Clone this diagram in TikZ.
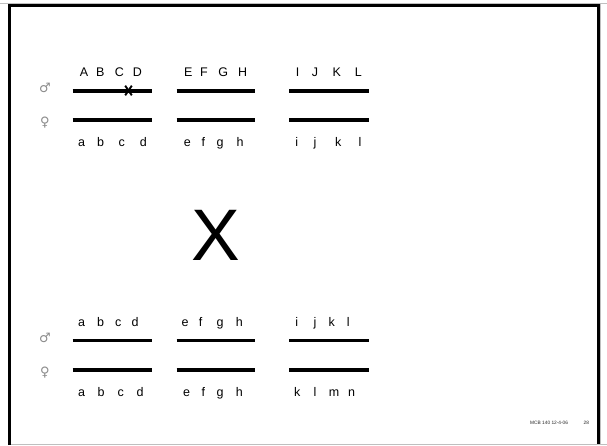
\documentclass[tikz,border=0pt]{standalone}
\usepackage{fontspec}
\setmainfont{Liberation Sans}
\newfontfamily\symbolfont{DejaVu Sans}
\usetikzlibrary{calc}
\begin{document}
\begin{tikzpicture}[x=1pt,y=-1pt,
  chrom/.style={line width=3.3pt},
  gene/.style={anchor=base,inner sep=0pt,font=\fontsize{12.5}{14}\selectfont},
  sexsym/.style={inner sep=0pt,text=black!45,font=\symbolfont\fontsize{13}{15}\selectfont},
  footer/.style={anchor=base west,inner sep=0pt,text=black!85,font=\fontsize{4.8}{5}\selectfont}]
\useasboundingbox (0,0) rectangle (607,445);

% slide frame
\draw[black!25,line width=1pt] (0,3) -- (607,3);
\draw[line width=3pt] (9.5,445) -- (9.5,5.5) -- (598.5,5.5) -- (598.5,445);
\draw[black!25,line width=1pt] (600.5,3) -- (600.5,445);
\draw[black!25,line width=1pt] (11,444.5) -- (607,444.5);

% chromosome bars: three pairs in each of the two crosses
\foreach \xa/\xb in {72.7/151.7,176.7/255,289/368.7}
  \foreach \y in {91,120,340.5,370}
    \draw[chrom] (\xa,\y) -- (\xb,\y);

% sex symbols
\node[sexsym] (male1) at (45,88) {♂};
\node[sexsym] (female1) at (45,123) {♀};
\node[sexsym] (male2) at (45,338) {♂};
\node[sexsym] (female2) at (45,373) {♀};

% first cross: paternal (top) and maternal (bottom) gene labels
\foreach \t/\x [count=\i] in {A/84,B/100.3,C/119.3,D/137.3,E/188.3,F/204,G/223.3,H/242.7,I/297.7,J/315,K/336.7,L/358.3}
  \node[gene] (top1-\i) at (\x,76) {\t};
\foreach \t/\x [count=\i] in {a/81.7,b/100.7,c/121.7,d/143.3,e/187.3,f/203.3,g/220,h/240,i/296.7,j/315,k/338.3,l/360}
  \node[gene] (bot1-\i) at (\x,146) {\t};

% marked site on the paternal chromosome
\coordinate (site) at (128.5,90.5);
\draw[line width=1.9pt] ($(site)+(-3.3,-4.8)$) -- ($(site)+(3.3,4.8)$);
\draw[line width=1.9pt] ($(site)+(3.3,-4.8)$) -- ($(site)+(-3.3,4.8)$);

% cross sign
\node[anchor=base,inner sep=0pt,font=\fontsize{73}{80}\selectfont] (cross) at (215.5,260) {X};

% second cross
\foreach \t/\x [count=\i] in {a/81.7,b/100.7,c/118.3,d/135,e/185,f/200.7,g/220,h/239.3,i/296.7,j/315,k/331.7,l/348.3}
  \node[gene] (top2-\i) at (\x,326.5) {\t};
\foreach \t/\x [count=\i] in {a/81.7,b/101,c/120.7,d/140,e/186.7,f/203.3,g/220,h/239.3,k/297.3,l/315,m/334,n/351.7}
  \node[gene] (bot2-\i) at (\x,396) {\t};

% footer
\node[footer] (course) at (530,424) {MCB 140 12-4-06};
\node[footer] (page) at (583.5,424) {28};
\end{tikzpicture}
\end{document}
